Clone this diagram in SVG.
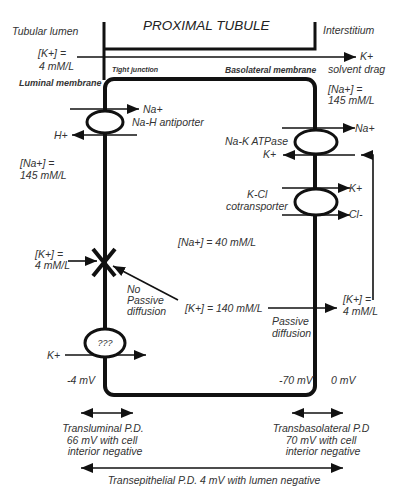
<svg xmlns="http://www.w3.org/2000/svg" width="407" height="500" viewBox="0 0 407 500">
<defs>
<marker id="ah" markerUnits="userSpaceOnUse" markerWidth="12" markerHeight="10" viewBox="0 0 12 10" refX="12" refY="5" orient="auto-start-reverse">
<path d="M0,0 L12,5 L0,10 Z" fill="#111"/>
</marker>
<style>
text{font-family:"Liberation Sans",Arial,sans-serif;font-style:italic;font-size:10.5px;fill:#333}
.big{font-size:13.5px;fill:#222}
.sb{font-size:7px;font-weight:bold}
.sb2{font-size:8.5px;font-weight:bold}
.lm{font-size:9px;font-weight:bold}
.c{text-anchor:middle}
.arr{stroke:#111;stroke-width:1.6;fill:none;marker-end:url(#ah)}
.dbl{stroke:#111;stroke-width:1.6;fill:none;marker-end:url(#ah);marker-start:url(#ah)}
.tr{fill:#fff;stroke:#111;stroke-width:3}
</style>
</defs>
<rect width="407" height="500" fill="#fff"/>
<g id="tubule-bracket">
<path d="M104,22 V80 M104,49 H315 V22" fill="none" stroke="#111" stroke-width="3"/>
<text class="big" x="143" y="30">PROXIMAL TUBULE</text>
</g>
<g id="cell">
<rect x="105" y="79" width="210" height="316" rx="9" fill="none" stroke="#111" stroke-width="4"/>
</g>
<g id="labels">
<text x="12" y="35">Tubular lumen</text>
<text x="323" y="34">Interstitium</text>
<text x="38" y="57">[K+] =</text>
<text x="39" y="70">4 mM/L</text>
<text class="sb" x="112" y="72">Tight junction</text>
<text class="sb2" x="225" y="73">Basolateral membrane</text>
<text class="lm" x="19" y="86">Luminal membrane</text>
<text x="360" y="60">K+</text>
<text x="328" y="73">solvent drag</text>
<text x="328" y="93">[Na+] =</text>
<text x="328" y="104">145 mM/L</text>
<text x="20" y="167">[Na+] =</text>
<text x="20" y="179">145 mM/L</text>
<text x="178" y="246">[Na+] = 40 mM/L</text>
<text x="35" y="258">[K+] =</text>
<text x="35" y="269">4 mM/L</text>
<text x="127" y="293">No</text>
<text x="127" y="304">Passive</text>
<text x="127" y="315">diffusion</text>
<text x="185" y="312">[K+] = 140 mM/L</text>
<text x="272" y="325">Passive</text>
<text x="272" y="337">diffusion</text>
<text x="343" y="303">[K+] =</text>
<text x="343" y="315">4 mM/L</text>
<text x="67" y="384">-4 mV</text>
<text x="279" y="384">-70 mV</text>
<text x="331" y="384">0 mV</text>
</g>
<g id="connectors">
<line class="arr" x1="77" y1="57" x2="356" y2="57"/>
<line class="arr" x1="70" y1="109" x2="139" y2="109"/>
<line class="arr" x1="137" y1="135" x2="72" y2="135"/>
<line class="arr" x1="282" y1="128" x2="355" y2="128"/>
<line class="arr" x1="355" y1="155" x2="283" y2="155"/>
<line class="arr" x1="282" y1="188" x2="350" y2="188"/>
<line class="arr" x1="282" y1="215" x2="350" y2="215"/>
<path class="arr" d="M373,300 V155 H361"/>
<line class="arr" x1="68" y1="261" x2="97" y2="261"/>
<line class="arr" x1="178" y1="300" x2="113" y2="266"/>
<line class="arr" x1="268" y1="308" x2="337" y2="308"/>
<line class="arr" x1="65" y1="355" x2="146" y2="355"/>
<line class="dbl" x1="81" y1="413" x2="133" y2="413"/>
<line class="dbl" x1="292" y1="413" x2="343" y2="413"/>
<line class="dbl" x1="81" y1="468" x2="343" y2="468"/>
</g>
<g id="na-h-antiporter">
<ellipse class="tr" cx="105" cy="122" rx="18" ry="11"/>
<text x="143" y="113">Na+</text>
<text x="132" y="126">Na-H  antiporter</text>
<text x="54" y="139">H+</text>
</g>
<g id="na-k-atpase">
<ellipse class="tr" cx="316" cy="142" rx="21" ry="12"/>
<text x="355" y="132">Na+</text>
<text x="225" y="145">Na-K ATPase</text>
<text x="263" y="158">K+</text>
</g>
<g id="k-cl-cotransporter">
<ellipse class="tr" cx="316" cy="202" rx="21" ry="13"/>
<text x="349" y="192">K+</text>
<text x="349" y="218">Cl-</text>
<text x="247" y="198">K-Cl</text>
<text x="226" y="210">cotransporter</text>
</g>
<g id="tight-block">
<path d="M93,249 L115,276 M115,249 L93,276" stroke="#111" stroke-width="4" fill="none"/>
</g>
<g id="unknown-transporter">
<ellipse class="tr" cx="105" cy="343" rx="20" ry="14"/>
<text class="c" x="105" y="346" style="font-size:9px">???</text>
<text x="47" y="359">K+</text>
</g>
<g id="potential-labels">
<text class="c" x="103" y="432">Transluminal P.D.</text>
<text class="c" x="102" y="444">66 mV with cell</text>
<text class="c" x="105" y="455">interior negative</text>
<text class="c" x="321" y="432">Transbasolateral P.D</text>
<text class="c" x="321" y="444">70 mV with cell</text>
<text class="c" x="323" y="455">interior negative</text>
<text class="c" x="214" y="484">Transepithelial P.D. 4 mV with lumen negative</text>
</g>
</svg>
